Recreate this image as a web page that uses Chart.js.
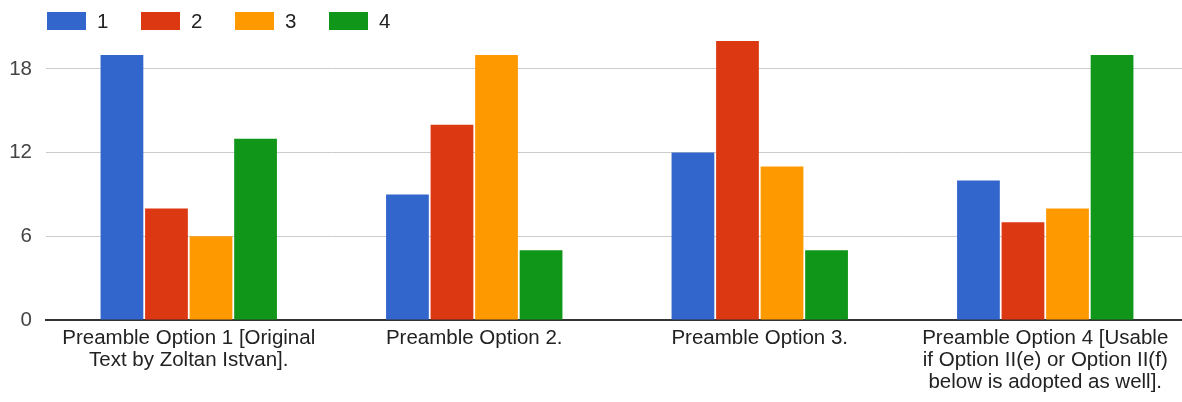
<!DOCTYPE html>
<html>
<head>
<meta charset="utf-8">
<script src="https://cdn.jsdelivr.net/npm/chart.js@4"></script>
<style>
  html, body { margin: 0; padding: 0; background: #fff; overflow: hidden; }
  #wrap { width: 1182px; height: 402px; overflow: hidden; }
</style>
</head>
<body>
<div id="wrap"><canvas id="myChart" width="1192" height="402"></canvas></div>
<script>
/* data */
var categories = [
  ['Preamble Option 1 [Original', 'Text by Zoltan Istvan].'],
  ['Preamble Option 2.'],
  ['Preamble Option 3.'],
  ['Preamble Option 4 [Usable', 'if Option II(e) or Option II(f)', 'below is adopted as well].']
];
var seriesNames = ['1', '2', '3', '4'];
var series1 = [19, 9, 12, 10];
var series2 = [8, 14, 20, 7];
var series3 = [6, 19, 11, 8];
var series4 = [13, 5, 5, 19];
var yTicks = [0, 6, 12, 18];

var colors = ['#3366cc', '#dc3912', '#ff9900', '#109618'];
var allSeries = [series1, series2, series3, series4];
var fontSize = 20.5;

var datasetses = allSeries.map(function(vals, i) {
  return {
    label: seriesNames[i],
    data: vals,
    backgroundColor: colors[i],
    borderWidth: 0,
    categoryPercentage: 0.624,
    barPercentage: 0.96
  };
});

/* legend drawn by hand, google style: boxes in a row at the top left */
var topLegend = {
  id: 'topLegend',
  afterDraw: function(chart) {
    var c = chart.ctx;
    c.save();
    c.font = fontSize + 'px Arial, "Liberation Sans", sans-serif';
    c.textBaseline = 'middle';
    c.textAlign = 'left';
    chart.data.datasets.forEach(function(ds, i) {
      var x = 47 + i * 94;
      c.fillStyle = ds.backgroundColor;
      c.fillRect(x, 12, 39, 18);
      c.fillStyle = '#222';
      c.fillText(ds.label, x + 50, 22);
    });
    c.restore();
  }
};

Chart.defaults.font.family = 'Arial, "Liberation Sans", sans-serif';
Chart.defaults.font.size = fontSize;

var ctx = document.getElementById('myChart').getContext('2d');
var myChart = new Chart(ctx, {
  type: 'bar',
  data: {
    labels: categories,
    datasets: datasetses
  },
  plugins: [topLegend],
  options: {
    responsive: false,
    animation: false,
    layout: { padding: { left: 0, right: 4, top: 41, bottom: 0 } },
    plugins: {
      legend: { display: false },
      tooltip: { enabled: false }
    },
    scales: {
      x: {
        grid: { display: false, drawTicks: false },
        border: { color: '#333', width: 2 },
        ticks: {
          color: '#222',
          padding: 7,
          maxRotation: 0,
          autoSkip: false,
          font: { size: fontSize, lineHeight: '22px' }
        },
        afterFit: function(axis) { axis.height = 82; }
      },
      y: {
        min: 0,
        max: 20,
        grid: { color: '#cccccc', drawTicks: false },
        border: { display: false },
        ticks: {
          color: '#444',
          padding: 14,
          font: { size: fontSize }
        },
        afterBuildTicks: function(axis) {
          axis.ticks = yTicks.map(function(v) { return { value: v }; });
        },
        afterFit: function(axis) { axis.width = 46; }
      }
    }
  }
});
</script>
</body>
</html>
